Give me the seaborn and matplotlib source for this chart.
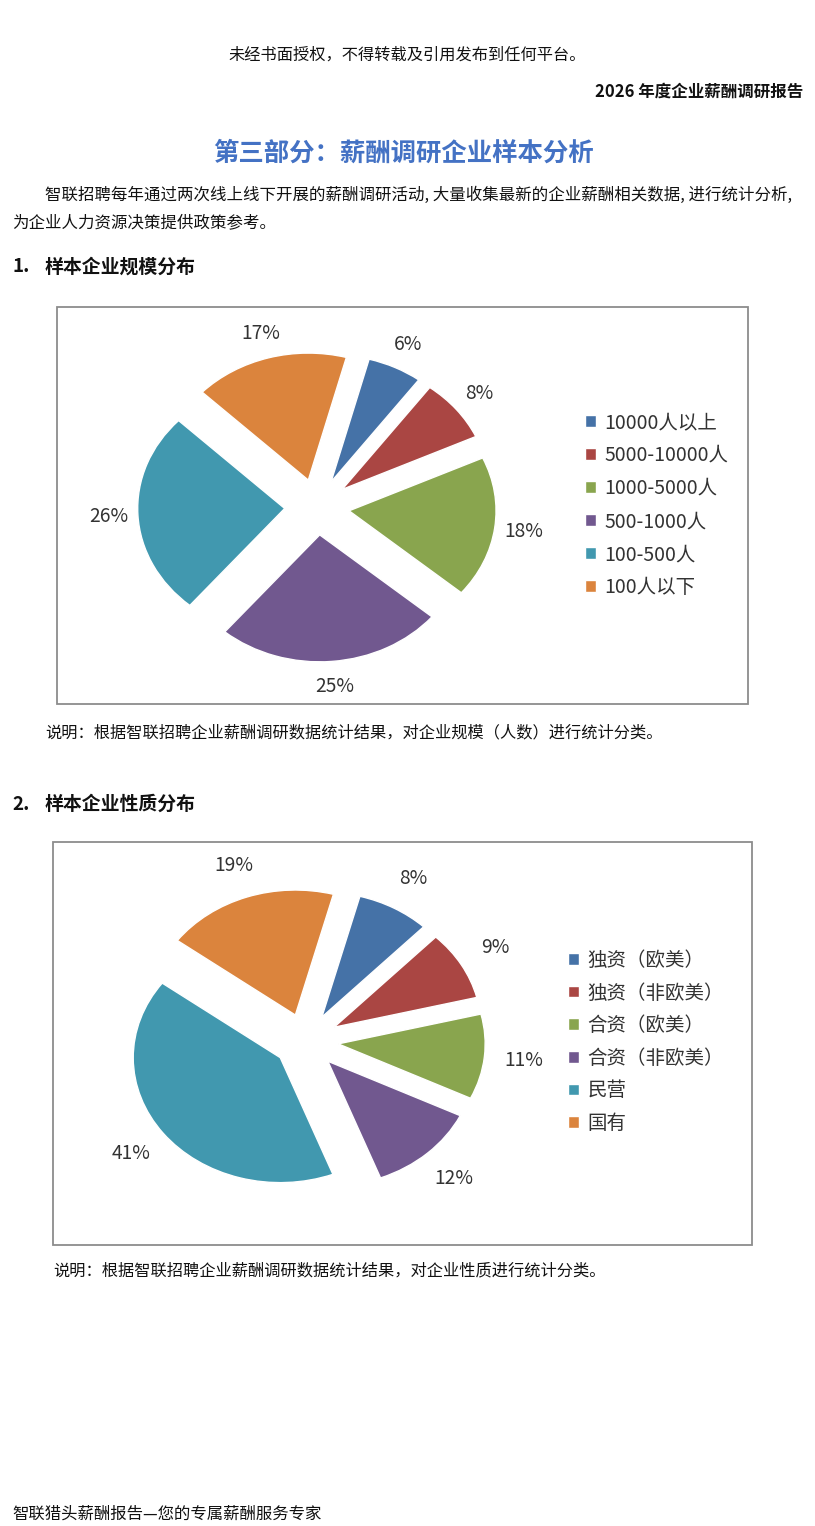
import matplotlib
matplotlib.use("Agg")
import matplotlib.pyplot as plt
import seaborn as sns
from matplotlib.patches import Rectangle

sns.set_theme(style="white")
plt.rcParams["font.family"] = ["Noto Sans CJK SC", "DejaVu Sans"]

# 数据
scale_labels = ["10000人以上", "5000-10000人", "1000-5000人", "500-1000人", "100-500人", "100人以下"]
scale_values = [6, 8, 18, 25, 26, 17]

nature_labels = ["独资（欧美）", "独资（非欧美）", "合资（欧美）", "合资（非欧美）", "民营", "国有"]
nature_values = [8, 9, 11, 12, 41, 19]

pie_colors = ["#4572A7", "#AA4643", "#89A54E", "#71588F", "#4198AF", "#DB843D"]

W, H = 815, 1526
fig = plt.figure(figsize=(W / 100, H / 100), dpi=100)
fig.patch.set_facecolor("white")


def px_text(x, y, s, **kw):
    kw.setdefault("va", "center")
    kw.setdefault("color", "#111111")
    fig.text(x / W, 1 - y / H, s, **kw)


def frame_box(x0, y0, x1, y1):
    fig.add_artist(Rectangle((x0 / W, 1 - y1 / H), (x1 - x0) / W, (y1 - y0) / H,
                             transform=fig.transFigure, fill=False,
                             edgecolor="#8c8c8c", linewidth=1.3))


def draw_pie(values, labels, cx, cy, rx, ry, leg_x, leg_y, pctdist, spacing):
    k = 1.6
    ax = fig.add_axes([(cx - k * rx) / W, 1 - (cy + k * ry) / H, 2 * k * rx / W, 2 * k * ry / H])
    wedges, _, _ = ax.pie(values, colors=pie_colors, startangle=75, counterclock=False,
                          explode=[0.22] * len(values),
                          autopct=lambda p: f"{p:.0f}%", pctdistance=pctdist,
                          textprops=dict(fontsize=13.8, color="#333333"))
    ax.set_aspect("auto")
    ax.set_xlim(-k, k)
    ax.set_ylim(-k, k)
    ax.axis("off")
    fig.legend(wedges, labels, loc="center left", bbox_to_anchor=(leg_x / W, 1 - leg_y / H),
               frameon=False, fontsize=14, labelcolor="#333333",
               handlelength=0.55, handleheight=0.55, handletextpad=0.45,
               labelspacing=spacing, borderpad=0, borderaxespad=0)


# 页面文字
px_text(407, 55, "未经书面授权，不得转载及引用发布到任何平台。", fontsize=11.7, ha="center")
px_text(803, 92, "2026 年度企业薪酬调研报告", fontsize=11.9, ha="right", fontweight="bold")
px_text(403, 153, "第三部分：薪酬调研企业样本分析", fontsize=18.3, ha="center",
        fontweight="bold", color="#4472C4")
px_text(45, 195, "智联招聘每年通过两次线上线下开展的薪酬调研活动, 大量收集最新的企业薪酬相关数据, 进行统计分析,",
        fontsize=11.85)
px_text(12, 223, "为企业人力资源决策提供政策参考。", fontsize=11.85)
px_text(12, 267, "1.", fontsize=13.6, fontweight="bold")
px_text(45, 267, "样本企业规模分布", fontsize=13.6, fontweight="bold")
px_text(45, 733, "说明：根据智联招聘企业薪酬调研数据统计结果，对企业规模（人数）进行统计分类。", fontsize=11.7)
px_text(12, 804, "2.", fontsize=13.6, fontweight="bold")
px_text(45, 804, "样本企业性质分布", fontsize=13.6, fontweight="bold")
px_text(53, 1271, "说明：根据智联招聘企业薪酬调研数据统计结果，对企业性质进行统计分类。", fontsize=11.7)
px_text(12, 1514, "智联猎头薪酬报告—您的专属薪酬服务专家", fontsize=11.8)

# 图表边框
frame_box(57, 307, 748, 704)
frame_box(53, 842, 752, 1245)

# 饼图
draw_pie(scale_values, scale_labels, 317, 507, 147, 127, 585, 505, 1.2, 0.62)
draw_pie(nature_values, nature_labels, 306, 1041, 147, 125, 568, 1042, 1.27, 0.6)

fig.savefig("out.png", dpi=100, facecolor="white")
